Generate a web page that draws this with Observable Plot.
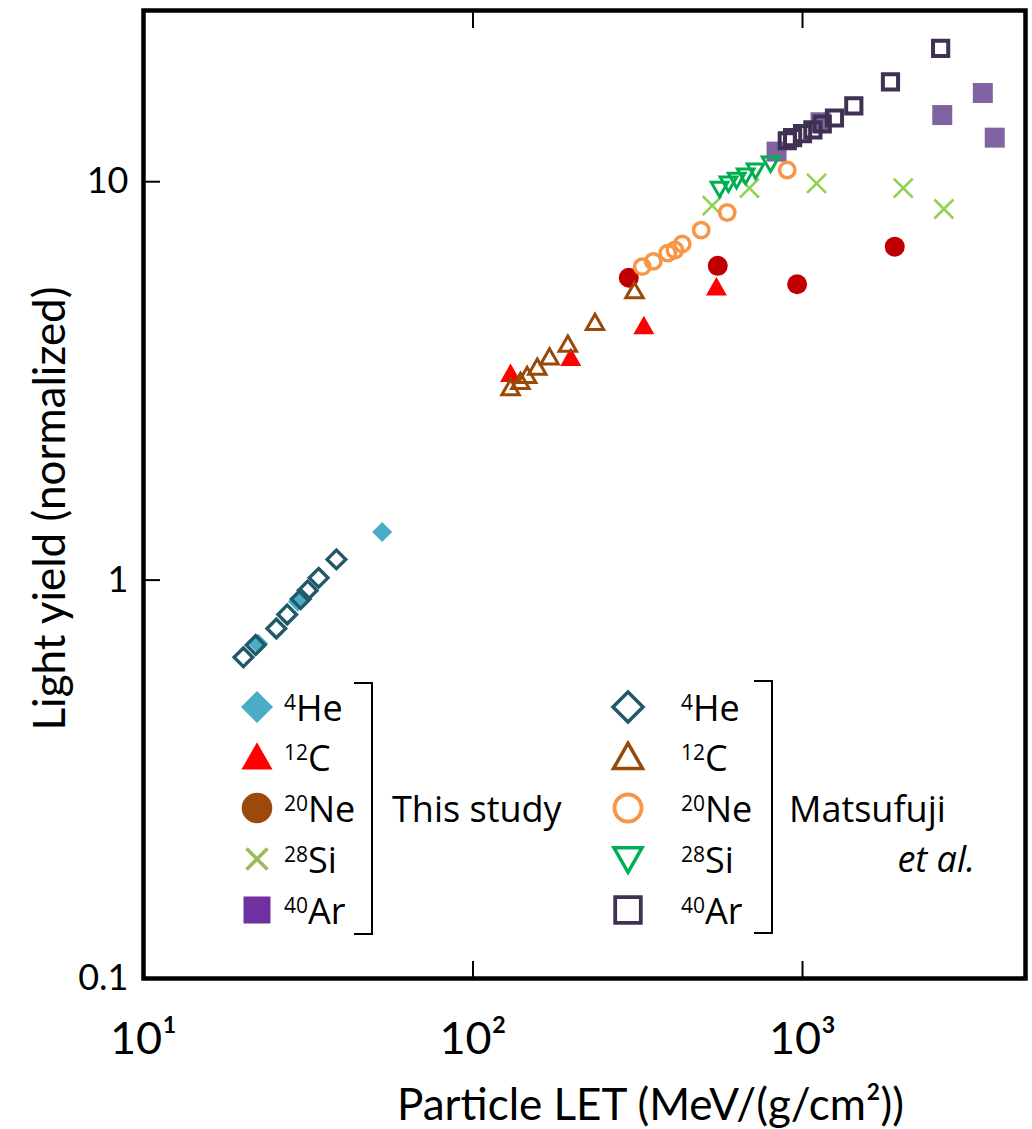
<!DOCTYPE html>
<html><head><meta charset="utf-8">
<script src="https://cdn.jsdelivr.net/npm/d3@7"></script>
<script src="https://cdn.jsdelivr.net/npm/@observablehq/plot@0.6"></script>
<style>
html,body{margin:0;padding:0;background:#fff;}
#chart{position:relative;width:1032px;height:1129px;}
</style></head><body><div id="chart"></div>
<script>
// ---------- data (LET in MeV/(g/cm2), light yield normalized) ----------
const heThisLET = [22.3, 29.4, 53.0];
const heThisLY  = [0.692, 0.882, 1.32];
const cThisLET  = [130, 198, 330, 548];
const cThisLY   = [3.30, 3.62, 4.35, 5.44];
const neThisLET = [297, 553, 963, 1905];
const neThisLY  = [5.74, 6.15, 5.53, 6.87];
const siThisLET = [532, 690, 1103, 2021, 2685];
const siThisLY  = [8.71, 9.64, 9.90, 9.64, 8.54];
const arThisLET = [834, 1134, 2655, 3525, 3831];
const arThisLY  = [11.9, 14.1, 14.7, 16.7, 12.9];

const heMatLET = [20.1, 21.9, 25.3, 27.3, 30.0, 31.5, 34.0, 38.5];
const heMatLY  = [0.640, 0.687, 0.756, 0.820, 0.896, 0.942, 1.013, 1.127];
const cMatLET  = [130, 139.3, 146, 156.7, 170.7, 194, 234.5, 309];
const cMatLY   = [3.04, 3.15, 3.26, 3.42, 3.63, 3.91, 4.43, 5.32];
const neMatLET = [326.3, 352.4, 390, 410, 431.5, 492.7, 590.8, 898.6];
const neMatLY  = [6.12, 6.31, 6.62, 6.74, 6.98, 7.56, 8.37, 10.7];
const siMatLET = [560, 596, 631, 672, 720, 800];
const siMatLY  = [9.60, 9.89, 10.1, 10.35, 10.66, 11.1];
const arMatLET = [899, 933, 1000, 1075, 1148, 1250, 1431, 1849, 2625];
const arMatLY  = [12.67, 12.9, 13.2, 13.5, 13.96, 14.45, 15.5, 17.8, 21.6];

const xTicks = [10, 100, 1000];
const xTickLabels = ["10¹", "10²", "10³"];
const yTicks = [0.1, 1, 10];
const yTickLabels = ["0.1", "1", "10"];
const xTitle = "Particle LET (MeV/(g/cm²))";
const yTitle = "Light yield (normalized)";
const isotopeMass = ["4", "12", "20", "28", "40"];
const isotopeName = ["He", "C", "Ne", "Si", "Ar"];
const groupThis = "This study";
const groupMat1 = "Matsufuji";
const groupMat2 = "et al.";

// ---------- symbols (half-extent = r) ----------
const hOf = s => Math.sqrt(s / Math.PI);
const sym = {
  diamond: {draw(c, s) { const h = hOf(s); c.moveTo(0, -h); c.lineTo(h, 0); c.lineTo(0, h); c.lineTo(-h, 0); c.closePath(); }},
  square:  {draw(c, s) { const h = hOf(s); c.rect(-h, -h, 2 * h, 2 * h); }},
  triUp:   {draw(c, s) { const h = hOf(s); c.moveTo(0, -0.95 * h); c.lineTo(h, 0.8 * h); c.lineTo(-h, 0.8 * h); c.closePath(); }},
  triDown: {draw(c, s) { const h = hOf(s); c.moveTo(0, 0.95 * h); c.lineTo(h, -0.8 * h); c.lineTo(-h, -0.8 * h); c.closePath(); }},
  circle:  {draw(c, s) { const h = hOf(s); c.moveTo(h, 0); c.arc(0, 0, h, 0, 2 * Math.PI); }},
  times:   {draw(c, s) { const h = hOf(s); c.moveTo(-h, -h); c.lineTo(h, h); c.moveTo(h, -h); c.lineTo(-h, h); }}
};
const rows = (xs, ys) => xs.map((x, i) => ({x, y: ys[i]}));

const filled = (xs, ys, symbol, color, r) =>
  Plot.dot(rows(xs, ys), {x: "x", y: "y", r, symbol, fill: color, stroke: "none"});
const open = (xs, ys, symbol, color, r, sw) =>
  Plot.dot(rows(xs, ys), {x: "x", y: "y", r, symbol, fill: "none", stroke: color, strokeWidth: sw});

const plot = Plot.plot({
  width: 1032, height: 1129,
  marginLeft: 143, marginRight: 7, marginTop: 10, marginBottom: 151,
  style: {fontFamily: "Lato, sans-serif", background: "white", color: "black"},
  x: {type: "log", domain: [10, 4750]},
  y: {type: "log", domain: [0.1, 26.9]},
  marks: [
    Plot.axisX({anchor: "bottom", ticks: xTicks, tickSize: -17, tickPadding: 61, strokeWidth: 2,
      tickFormat: d => xTickLabels[xTicks.indexOf(d)], fontSize: 45, label: null}),
    Plot.axisX({anchor: "top", ticks: xTicks.slice(1), tickSize: -17, strokeWidth: 2,
      tickFormat: () => "", label: null}),
    Plot.axisY({anchor: "left", ticks: yTicks, tickSize: -17, tickPadding: 32, strokeWidth: 2,
      tickFormat: d => yTickLabels[yTicks.indexOf(d)], fontSize: 36, label: null}),
    Plot.text([xTitle], {text: d => d, frameAnchor: "bottom", dx: 66, dy: 127, fontSize: 44,
      textAnchor: "middle", lineAnchor: "middle"}),
    Plot.text([yTitle], {text: d => d, frameAnchor: "left", rotate: -90, dx: -93, dy: 14, fontSize: 44,
      textAnchor: "middle", lineAnchor: "middle"}),
    // This study
    filled(heThisLET, heThisLY, sym.diamond, "#4bacc6", 10),
    filled(neThisLET, neThisLY, sym.circle, "#c00000", 10),
    filled(cThisLET, cThisLY, sym.triUp, "#ff0000", 10.5),
    Plot.dot(rows(siThisLET, siThisLY), {x: "x", y: "y", r: 9.5, symbol: sym.times, fill: "none", stroke: "#92d050", strokeWidth: 2.6}),
    filled(arThisLET, arThisLY, sym.square, "#8064a2", 10),
    // Matsufuji et al.
    open(heMatLET, heMatLY, sym.diamond, "#215968", 9.3, 3.4),
    open(cMatLET, cMatLY, sym.triUp, "#984807", 8.7, 3),
    open(neMatLET, neMatLY, sym.circle, "#f79646", 7.7, 3.5),
    open(siMatLET, siMatLY, sym.triDown, "#00b050", 8.3, 3),
    open(arMatLET, arMatLY, sym.square, "#403152", 7.6, 4),
    Plot.frame({stroke: "black", strokeWidth: 4.5})
  ]
});
document.getElementById("chart").appendChild(plot);

// ---------- legend overlay ----------
const legend = d3.select("#chart").append("svg")
  .attr("width", 1032).attr("height", 1129)
  .style("position", "absolute").style("left", 0).style("top", 0)
  .style("font-family", "'Open Sans', sans-serif").style("pointer-events", "none");

const rowY = [707, 757, 808, 859, 910];
const symPath = (s, h) => { const p = d3.path(); s.draw(p, Math.PI * h * h); return p.toString(); };

const groups = [
  {sx: 257, tx: 284, bx: 372, by0: 683, by1: 934,
   items: [
     {s: sym.diamond, h: 16, fill: "#4bacc6"},
     {s: sym.triUp, h: 15.5, fill: "#ff0000"},
     {s: sym.circle, h: 15.3, fill: "#9c4a0c"},
     {s: sym.times, h: 10.5, stroke: "#9bbb59", sw: 3.5},
     {s: sym.square, h: 13.5, fill: "#7030a0"}]},
  {sx: 628, tx: 681, bx: 772, by0: 681, by1: 933,
   items: [
     {s: sym.diamond, h: 15, stroke: "#215968", sw: 3.5},
     {s: sym.triUp, h: 14.5, stroke: "#984807", sw: 3.5},
     {s: sym.circle, h: 13.5, stroke: "#f79646", sw: 3.8},
     {s: sym.triDown, h: 14, stroke: "#00b050", sw: 3.5},
     {s: sym.square, h: 12.8, stroke: "#403152", sw: 3.8}]}
];
groups.forEach(g => {
  g.items.forEach((it, i) => {
    legend.append("path")
      .attr("transform", `translate(${g.sx},${rowY[i]})`)
      .attr("d", symPath(it.s, it.h))
      .attr("fill", it.fill || "none")
      .attr("stroke", it.stroke || "none")
      .attr("stroke-width", it.sw || 0);
    const t = legend.append("text").attr("x", g.tx).attr("y", rowY[i] + 14)
      .attr("font-size", 36).attr("fill", "black");
    t.append("tspan").attr("font-size", 21).attr("dy", -11).text(isotopeMass[i]);
    t.append("tspan").attr("dy", 11).text(isotopeName[i]);
  });
  legend.append("path")
    .attr("d", `M${g.bx - 18},${g.by0}H${g.bx}V${g.by1}H${g.bx - 18}`)
    .attr("fill", "none").attr("stroke", "black").attr("stroke-width", 2);
});
legend.append("text").attr("x", 392).attr("y", 822).attr("font-size", 36).text(groupThis);
legend.append("text").attr("x", 789).attr("y", 822).attr("font-size", 36).text(groupMat1);
legend.append("text").attr("x", 975).attr("y", 872).attr("font-size", 36)
  .attr("text-anchor", "end").attr("font-style", "italic").text(groupMat2);
</script>
</body></html>
